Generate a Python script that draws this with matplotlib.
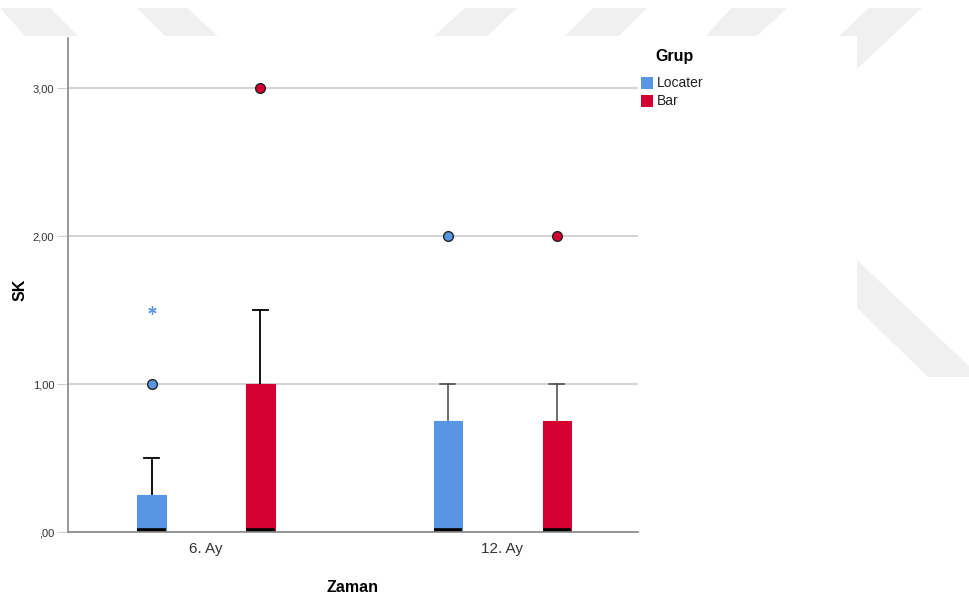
import matplotlib

matplotlib.use("Agg")
import matplotlib.pyplot as plt
from matplotlib.patches import Polygon, Rectangle

plt.rcParams["font.family"] = ["Liberation Sans", "DejaVu Sans"]

# values
zaman = ["6. Ay", "12. Ay"]
gruplar = ["Locater", "Bar"]
renkler = ["#5896E4", "#D50032"]

# per group, per time point
q1 = {"Locater": [0.0, 0.0], "Bar": [0.0, 0.0]}
medyan = {"Locater": [0.0, 0.0], "Bar": [0.0, 0.0]}
q3 = {"Locater": [0.25, 0.75], "Bar": [1.0, 0.75]}
ust_biyik = {"Locater": [0.5, 1.0], "Bar": [1.5, 1.0]}
aykiri = {"Locater": [[1.0], [2.0]], "Bar": [[3.0], [2.0]]}
uc_deger = {"Locater": [[1.5], []], "Bar": [[], []]}

y_ticks = [0, 1, 2, 3]
y_labels = [",00", "1,00", "2,00", "3,00"]

W, H = 970, 600
fig = plt.figure(figsize=(W / 100, H / 100), dpi=100)


def px(points):
    return [(x / W, 1 - y / H) for x, y in points]


# faint watermark shapes behind the pasted chart image
shapes = [
    [(0, 8), (50, 8), (78, 36), (25, 36)],
    [(137, 8), (187, 8), (218, 36), (165, 36)],
    [(465, 8), (517, 8), (487, 36), (434, 36)],
    [(593, 8), (647, 8), (619, 36), (565, 36)],
    [(731, 8), (787, 8), (757, 36), (706, 36)],
    [(869, 8), (922, 8), (857, 69), (857, 36), (839, 36)],
    [(857, 260), (970, 367), (970, 377), (928, 377), (857, 308)],
]
for s in shapes:
    fig.patches.append(Polygon(px(s), closed=True, transform=fig.transFigure,
                               facecolor="#f0f0f0", edgecolor="none", zorder=-3))
fig.patches.append(Rectangle((0, 0), 857 / W, 1 - 36 / H, transform=fig.transFigure,
                             facecolor="white", edgecolor="none", zorder=-2))

ax = fig.add_axes([68 / W, 1 - 532 / H, (638 - 68) / W, (532 - 38) / H])
ax.set_zorder(1)

offset = 0.184
width = 0.095
for gi, g in enumerate(gruplar):
    sign = -1 if gi == 0 else 1
    stats = []
    for ti in range(len(zaman)):
        stats.append({
            "q1": q1[g][ti], "med": medyan[g][ti], "q3": q3[g][ti],
            "whislo": q1[g][ti], "whishi": ust_biyik[g][ti],
            "fliers": aykiri[g][ti],
        })
    positions = [ti + sign * offset for ti in range(len(zaman))]
    bp = ax.bxp(stats, positions=positions, widths=width, patch_artist=True,
                showfliers=True, capwidths=0.048, manage_ticks=False,
                boxprops=dict(facecolor=renkler[gi], edgecolor=renkler[gi], linewidth=0.8),
                medianprops=dict(color="black", linewidth=5.5, solid_capstyle="butt"),
                whiskerprops=dict(color="black", linewidth=1.3),
                capprops=dict(color="black", linewidth=1.3),
                flierprops=dict(marker="o", markersize=7, markerfacecolor=renkler[gi],
                                markeredgecolor="#222222", markeredgewidth=1.0))
    for art in bp["boxes"]:
        art.set_zorder(3)
    for art in bp["medians"]:
        art.set_zorder(4)
    # later time point drawn with softer grey whiskers, as in the source
    for art in bp["whiskers"][2:] + bp["caps"][2:]:
        art.set_color("#444444")
        art.set_linewidth(1.1)
    for ti in range(len(zaman)):
        for v in uc_deger[g][ti]:
            ax.plot(positions[ti], v, marker=(6, 2, 0), markersize=6,
                    color=renkler[gi], markeredgewidth=0.9, linestyle="none")

ax.set_xlim(-0.466, 1.459)
ax.set_ylim(0, 3.338)
ax.set_xticks(range(len(zaman)))
ax.set_xticklabels(zaman, fontsize=11, color="#333333")
ax.set_yticks(y_ticks)
ax.set_yticklabels(y_labels, fontsize=8, color="#333333")
ax.tick_params(axis="y", length=8, color="#cfcfcf", pad=2)
ax.tick_params(axis="x", length=0, pad=7)
ax.grid(True, axis="y", color="#d0d0d0", linewidth=1.3)
ax.set_axisbelow(True)
for side in ["top", "right"]:
    ax.spines[side].set_visible(False)
for side in ["left", "bottom"]:
    ax.spines[side].set_color("#888888")
    ax.spines[side].set_linewidth(1.2)
    ax.spines[side].set_zorder(5)

ax.set_xlabel("Zaman", fontsize=11.5, fontweight="bold", va="center")
ax.xaxis.set_label_coords(0.5, (532 - 587) / 494)
ax.set_ylabel("SK", fontsize=11.5, fontweight="bold", va="center")
ax.yaxis.set_label_coords((20 - 68) / 570, 0.5 - (290 - 285) / 494)

# legend drawn like the SPSS side panel
fig.text(655 / W, 1 - 57 / H, "Grup", fontsize=11.5, fontweight="bold", va="center")
for gi, g in enumerate(gruplar):
    yc = 83 + gi * 18
    fig.patches.append(Rectangle((641 / W, 1 - (yc + 6) / H), 12 / W, 12 / H,
                                 transform=fig.transFigure, facecolor=renkler[gi],
                                 edgecolor="none", zorder=2))
    fig.text(657 / W, 1 - yc / H, g, fontsize=10, va="center", color="#222222")

fig.savefig("out.png", dpi=100)
